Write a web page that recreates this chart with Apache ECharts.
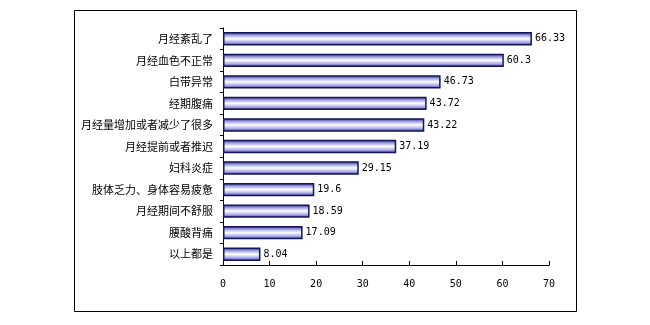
<!DOCTYPE html>
<html>
<head>
<meta charset="utf-8">
<script src="https://cdn.jsdelivr.net/npm/echarts@6/dist/echarts.min.js"></script>
<style>
  html, body { margin: 0; padding: 0; background: #fff; }
  #main { width: 650px; height: 325px; }
</style>
</head>
<body>
<div id="main"></div>
<script>
// 类别（从上到下）
const categories = [
  '月经紊乱了', '月经血色不正常', '白带异常', '经期腹痛',
  '月经量增加或者减少了很多', '月经提前或者推迟', '妇科炎症',
  '肢体乏力、身体容易疲惫', '月经期间不舒服', '腰酸背痛', '以上都是'
];
const values = [66.33, 60.3, 46.73, 43.72, 43.22, 37.19, 29.15, 19.6, 18.59, 17.09, 8.04];
const xTicks = [0, 10, 20, 30, 40, 50, 60, 70];

const chart = echarts.init(document.getElementById('main'), null, { renderer: 'canvas' });

const barFill = new echarts.graphic.LinearGradient(0, 0, 0, 1, [
  { offset: 0, color: '#2e2e8c' },
  { offset: 0.3, color: '#b8b8ee' },
  { offset: 0.5, color: '#ffffff' },
  { offset: 0.75, color: '#b0b0ea' },
  { offset: 1, color: '#3c3ca0' }
]);

let option = {
  animation: false,
  backgroundColor: '#fff',
  graphic: [{
    type: 'rect',
    shape: { x: 74.5, y: 10.5, width: 502, height: 301 },
    style: { fill: 'none', stroke: '#000', lineWidth: 1 },
    silent: true
  }],
  grid: {
    left: 223,
    right: 101,
    top: 28,
    bottom: 60
  },
  xAxis: {
    type: 'value',
    min: xTicks[0],
    max: xTicks[xTicks.length - 1],
    interval: 10,
    splitLine: { show: false },
    axisLine: { show: true, lineStyle: { color: '#000', width: 1 } },
    axisTick: { show: true, inside: true, length: 4, lineStyle: { color: '#000' } },
    axisLabel: {
      color: '#000',
      fontFamily: 'DejaVu Sans Mono',
      fontSize: 10,
      margin: 14
    }
  },
  yAxis: {
    type: 'category',
    inverse: true,
    data: categories,
    axisLine: { show: true, lineStyle: { color: '#000', width: 1 } },
    axisTick: { show: true, length: 3, lineStyle: { color: '#000' } },
    axisLabel: {
      color: '#000',
      fontFamily: 'Noto Sans CJK SC',
      fontSize: 11,
      margin: 10
    }
  },
  series: [{
    type: 'bar',
    data: values,
    barWidth: '62%',
    itemStyle: {
      color: barFill,
      borderColor: '#14145a',
      borderWidth: 1.5
    },
    label: {
      show: true,
      position: 'right',
      distance: 3,
      color: '#000',
      fontFamily: 'DejaVu Sans Mono',
      fontSize: 10
    }
  }]
};

chart.setOption(option);
</script>
</body>
</html>
